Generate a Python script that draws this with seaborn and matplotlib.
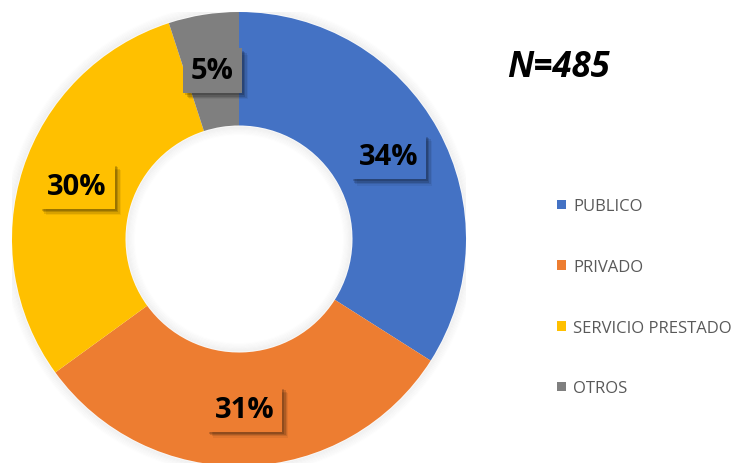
import matplotlib
matplotlib.use("Agg")
import matplotlib.pyplot as plt
import matplotlib.patheffects as pe
from matplotlib.patches import Patch, Circle
import seaborn as sns

categories = ["PUBLICO", "PRIVADO", "SERVICIO PRESTADO", "OTROS"]
shares = [34, 31, 30, 5]
colors = ["#4472C4", "#ED7D31", "#FFC000", "#7F7F7F"]
sample_label = "N=485"

sns.set_theme(style="white")
plt.rcParams["font.family"] = ["Open Sans", "DejaVu Sans"]

fig = plt.figure(figsize=(7.39, 4.64), dpi=100)
W, H = 739, 464
cx, cy, R = 239, 240, 227
ax = fig.add_axes([(cx - R) / W, (H - cy - R) / H, 2 * R / W, 2 * R / H])

wedges, texts, autotexts = ax.pie(
    shares, colors=colors, startangle=90, counterclock=False,
    radius=1, wedgeprops=dict(width=0.5, linewidth=0),
    autopct=lambda p: f"{p:.0f}%", pctdistance=0.75,
)
ax.set_aspect("auto")
ax.set_xlim(-1, 1)
ax.set_ylim(-1, 1)
ax.axis("off")

# soft glow around the ring and inside the hole
for i in range(8):
    ax.add_patch(Circle((0, 0), 1 + 0.005 * (i + 1), fc="none",
                        ec="black", lw=1.2, alpha=0.04 * (8 - i) / 8, zorder=0))
    ax.add_patch(Circle((0, 0), 0.5 - 0.005 * (i + 1), fc="none",
                        ec="black", lw=1.2, alpha=0.04 * (8 - i) / 8, zorder=3))

# blurred drop shadow for the value boxes, built from stacked offsets
soft_shadow = [
    pe.SimplePatchShadow(offset=(d, -d), shadow_rgbFace="black", alpha=a)
    for d, a in [(4.5, 0.06), (3.5, 0.10), (2.5, 0.14), (1.5, 0.16)]
] + [pe.Normal()]

for t, c in zip(autotexts, colors):
    t.set_fontsize(21)
    t.set_fontweight("bold")
    t.set_color("black")
    t.set_zorder(5)
    t.set_bbox(dict(boxstyle="square,pad=0.27", fc=c, ec="none"))
    t.get_bbox_patch().set_path_effects(soft_shadow)

fig.text(558 / W, 1 - 68 / H, sample_label, fontsize=25, fontweight="bold",
         fontstyle="italic", ha="center", va="center", color="black")

handles = [Patch(fc=c, ec="none") for c in colors]
leg = fig.legend(handles, categories, loc="upper left",
                 bbox_to_anchor=(549 / W, 1 - 191 / H), frameon=False,
                 fontsize=12, labelspacing=2.68, handlelength=0.5,
                 handleheight=0.5, handletextpad=0.45, borderpad=0)
for txt in leg.get_texts():
    txt.set_color("#595959")

fig.savefig("out.png", dpi=100)
